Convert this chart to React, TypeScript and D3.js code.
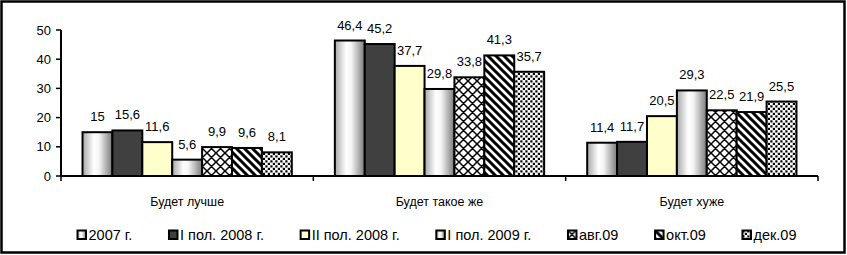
import React from 'react';
import * as d3 from 'd3';

const categories = ['Будет лучше', 'Будет такое же', 'Будет хуже'];
const seriesNames = ['2007 г.', 'I пол. 2008 г.', 'II пол. 2008 г.', 'I пол. 2009 г.', 'авг.09', 'окт.09', 'дек.09'];
const values2007 = [15, 46.4, 11.4];
const valuesH1_2008 = [15.6, 45.2, 11.7];
const valuesH2_2008 = [11.6, 37.7, 20.5];
const valuesH1_2009 = [5.6, 29.8, 29.3];
const valuesAug09 = [9.9, 33.8, 22.5];
const valuesOct09 = [9.6, 41.3, 21.9];
const valuesDec09 = [8.1, 35.7, 25.5];
const yTicks = [0, 10, 20, 30, 40, 50];

const seriesValues = [values2007, valuesH1_2008, valuesH2_2008, valuesH1_2009, valuesAug09, valuesOct09, valuesDec09];
const fills = ['url(#cyl)', '#404040', '#FFFFCC', 'url(#cyl)', 'url(#cross)', 'url(#stripes)', 'url(#dots)'];

const W = 847;
const H = 255;
const FONT = '"Liberation Sans", Arial, sans-serif';

const fmt = (v: number) => String(v).replace('.', ',');

const measure = (text: string, size: number) => {
  const ctx = document.createElement('canvas').getContext('2d');
  if (!ctx) return text.length * size * 0.55;
  ctx.font = `${size}px ${FONT}`;
  return ctx.measureText(text).width;
};

const App = () => {
  const y = d3.scaleLinear().domain([0, 50]).range([176, 30]);
  const x = d3.scaleBand().domain(categories).range([61, 818]).padding(0);
  const xs = d3.scaleBand().domain(seriesNames).range([0, x.bandwidth()]).paddingInner(0).paddingOuter(0.72);

  // легенда: ширины по тексту, равные промежутки
  const legendLeft = 77;
  const legendRight = 797;
  const itemW = seriesNames.map(s => 12 + measure(s, 14.5));
  const gap = (legendRight - legendLeft - d3.sum(itemW)) / (seriesNames.length - 1);
  const legendX = itemW.map((_, i) => legendLeft + d3.sum(itemW.slice(0, i)) + gap * i);

  const boundaries = [...categories.map(c => x(c)!), 818];

  return (
    <svg width={W} height={H} style={{ position: 'absolute', left: 0, top: 0, background: '#fff' }} fontFamily={FONT}>
      <defs>
        <linearGradient id="cyl" x1="0" x2="1" y1="0" y2="0">
          <stop offset="0%" stopColor="#a8a8a8" />
          <stop offset="38%" stopColor="#ffffff" />
          <stop offset="55%" stopColor="#f4f4f4" />
          <stop offset="100%" stopColor="#7a7a7a" />
        </linearGradient>
        <pattern id="cross" width="9" height="9" patternUnits="userSpaceOnUse">
          <rect width="9" height="9" fill="#fff" />
          <path d="M0,0 L9,9 M9,0 L0,9 M-1,8 L1,10 M8,-1 L10,1" stroke="#000" strokeWidth="1.5" />
        </pattern>
        <pattern id="stripes" width="8" height="8" patternUnits="userSpaceOnUse">
          <rect width="8" height="8" fill="#fff" />
          <path d="M-2,-2 L10,10 M-2,6 L2,10 M6,-2 L10,2" stroke="#000" strokeWidth="3" />
        </pattern>
        <pattern id="dots" width="5" height="5" patternUnits="userSpaceOnUse">
          <rect width="5" height="5" fill="#fff" />
          <rect x="0.3" y="0.3" width="2.2" height="2.2" fill="#000" />
          <rect x="2.8" y="2.8" width="2.2" height="2.2" fill="#000" />
        </pattern>
      </defs>

      <rect x={1.5} y={1.5} width={W - 4} height={H - 4} fill="#fff" stroke="#000" strokeWidth={2.5} />

      {/* ось Y */}
      <line x1={61} x2={61} y1={y(50)} y2={y(0)} stroke="#000" strokeWidth={2} />
      {yTicks.map(t => (
        <g key={t}>
          <line x1={56} x2={61} y1={y(t)} y2={y(t)} stroke="#000" strokeWidth={1.5} />
          <text x={51} y={y(t) + 4.5} textAnchor="end" fontSize={13}>{t}</text>
        </g>
      ))}

      {/* столбцы */}
      {categories.map((c, ci) => (
        <g key={c}>
          {seriesNames.map((s, si) => {
            const v = seriesValues[si][ci];
            const bx = x(c)! + xs(s)!;
            return (
              <g key={s}>
                <rect x={bx} y={y(v)} width={xs.bandwidth()} height={y(0) - y(v)}
                  fill={fills[si]} stroke="#000" strokeWidth={2} />
                <text x={bx + xs.bandwidth() / 2} y={y(v) - 11} textAnchor="middle" fontSize={13}>{fmt(v)}</text>
              </g>
            );
          })}
          <text x={x(c)! + x.bandwidth() / 2} y={206} textAnchor="middle" fontSize={12.5}>{c}</text>
        </g>
      ))}

      {/* ось X */}
      <line x1={61} x2={818} y1={y(0)} y2={y(0)} stroke="#000" strokeWidth={2} />
      {boundaries.map((b, i) => (
        <line key={i} x1={b} x2={b} y1={y(0)} y2={y(0) + 5} stroke="#000" strokeWidth={1.5} />
      ))}

      {/* легенда */}
      {seriesNames.map((s, i) => (
        <g key={s} transform={`translate(${legendX[i]},230)`}>
          <rect x={0.5} y={0.5} width={8.5} height={8.5} fill={fills[i]} stroke="#000" strokeWidth={2} />
          <text x={11.5} y={9.8} fontSize={14.5}>{s}</text>
        </g>
      ))}
    </svg>
  );
};

export default App;
